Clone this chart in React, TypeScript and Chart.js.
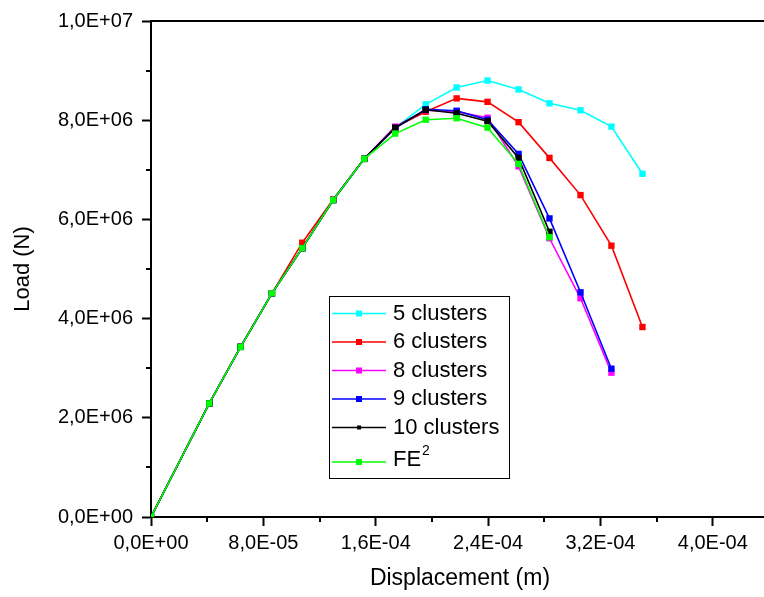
import React, { useEffect, useRef } from 'react';
import { Chart, registerables } from 'chart.js';

Chart.register(...registerables);

// Displacement (m) shared by all series
const displacement = [0, 4.15e-5, 6.38e-5, 8.61e-5, 1.077e-4, 1.297e-4, 1.518e-4, 1.739e-4, 1.956e-4, 2.176e-4, 2.396e-4, 2.617e-4, 2.837e-4, 3.058e-4, 3.278e-4, 3.499e-4];

// Load (N)
const load5 = [0, 2.29e6, 3.43e6, 4.51e6, 5.42e6, 6.39e6, 7.22e6, 7.85e6, 8.32e6, 8.66e6, 8.80e6, 8.62e6, 8.34e6, 8.20e6, 7.87e6, 6.92e6];
const load6 = [0, 2.29e6, 3.43e6, 4.51e6, 5.53e6, 6.40e6, 7.22e6, 7.86e6, 8.17e6, 8.44e6, 8.37e6, 7.96e6, 7.24e6, 6.49e6, 5.47e6, 3.83e6];
const load8 = [0, 2.29e6, 3.43e6, 4.51e6, 5.42e6, 6.39e6, 7.22e6, 7.87e6, 8.20e6, 8.17e6, 8.05e6, 7.07e6, 5.62e6, 4.41e6, 2.91e6];
const load9 = [0, 2.29e6, 3.43e6, 4.51e6, 5.42e6, 6.39e6, 7.22e6, 7.84e6, 8.22e6, 8.19e6, 8.01e6, 7.32e6, 6.02e6, 4.53e6, 2.99e6];
const load10 = [0, 2.29e6, 3.43e6, 4.51e6, 5.42e6, 6.39e6, 7.22e6, 7.85e6, 8.21e6, 8.14e6, 7.98e6, 7.24e6, 5.75e6];
const loadFE2 = [0, 2.29e6, 3.43e6, 4.51e6, 5.42e6, 6.39e6, 7.22e6, 7.73e6, 8.01e6, 8.04e6, 7.85e6, 7.12e6, 5.64e6];

const seriesNames = ['5 clusters', '6 clusters', '8 clusters', '9 clusters', '10 clusters', 'FE2'];
const seriesColors = ['#00FFFF', '#FF0000', '#FF00FF', '#0000FF', '#000000', '#00FF00'];
const seriesLoads = [load5, load6, load8, load9, load10, loadFE2];

const xTickLabels = ['0,0E+00', '8,0E-05', '1,6E-04', '2,4E-04', '3,2E-04', '4,0E-04'];
const yTickLabels = ['0,0E+00', '2,0E+06', '4,0E+06', '6,0E+06', '8,0E+06', '1,0E+07'];

const FONT = "'Liberation Sans', Arial, sans-serif";

const framePlugin = {
  id: 'frame',
  afterDraw(chart: any) {
    const ctx = chart.ctx;
    const { left, right, top, bottom } = chart.chartArea;
    const xs = chart.scales.x;
    const ys = chart.scales.y;
    ctx.save();
    ctx.strokeStyle = '#000';
    ctx.lineWidth = 2;
    // top frame line
    ctx.beginPath();
    ctx.moveTo(left - 1, top);
    ctx.lineTo(right + 1, top);
    ctx.stroke();
    // right frame line
    ctx.beginPath();
    ctx.moveTo(right, top);
    ctx.lineTo(right, bottom);
    ctx.stroke();
    // minor ticks
    xs.ticks.forEach((t: any, i: number) => {
      if (i % 2 === 1) {
        const px = Math.round(xs.getPixelForValue(t.value));
        ctx.beginPath();
        ctx.moveTo(px, bottom);
        ctx.lineTo(px, bottom + 5);
        ctx.stroke();
      }
    });
    ys.ticks.forEach((t: any, i: number) => {
      if (i % 2 === 1) {
        const py = Math.round(ys.getPixelForValue(t.value));
        ctx.beginPath();
        ctx.moveTo(left, py);
        ctx.lineTo(left - 5, py);
        ctx.stroke();
      }
    });
    ctx.restore();
  },
};

const legendPlugin = {
  id: 'customLegend',
  afterDraw(chart: any) {
    const ctx = chart.ctx;
    ctx.save();
    const bx = 329.5, by = 296.5, bw = 180, bh = 182;
    ctx.fillStyle = '#fff';
    ctx.fillRect(bx, by, bw, bh);
    ctx.strokeStyle = '#000';
    ctx.lineWidth = 1;
    ctx.strokeRect(bx, by, bw, bh);
    const rows = [313.5, 342, 370.5, 399, 427.5, 462];
    seriesNames.forEach((name, i) => {
      const y = rows[i];
      const c = seriesColors[i];
      ctx.strokeStyle = c;
      ctx.lineWidth = 1.6;
      ctx.beginPath();
      ctx.moveTo(332, y);
      ctx.lineTo(386, y);
      ctx.stroke();
      ctx.fillStyle = c;
      const s = i === 4 ? 4 : 6;
      ctx.fillRect(359 - s / 2, y - s / 2, s, s);
      ctx.fillStyle = '#000';
      ctx.font = `22px ${FONT}`;
      ctx.textBaseline = 'middle';
      ctx.textAlign = 'left';
      if (name === 'FE2') {
        ctx.fillText('FE', 393, y - 2);
        const w = ctx.measureText('FE').width;
        ctx.font = `14px ${FONT}`;
        ctx.fillText('2', 393 + w + 1, y - 11);
      } else {
        ctx.fillText(name, 393, y);
      }
    });
    ctx.restore();
  },
};

export default function App() {
  const ref = useRef<HTMLCanvasElement | null>(null);

  useEffect(() => {
    if (!ref.current) return;
    const datasets = seriesNames.map((name, i) => ({
      label: name,
      data: seriesLoads[i].map((v, j) => ({ x: displacement[j], y: v })),
      borderColor: seriesColors[i],
      backgroundColor: seriesColors[i],
      pointBackgroundColor: seriesColors[i],
      pointBorderColor: seriesColors[i],
      pointStyle: 'rect',
      pointRadius: 4.5,
      pointBorderWidth: 0,
      borderWidth: 1.6,
      tension: 0,
      fill: false,
      order: seriesNames.length - i,
    }));

    const chart = new Chart(ref.current, {
      type: 'line',
      data: { datasets },
      options: {
        animation: false,
        responsive: false,
        devicePixelRatio: 1,
        layout: { padding: { top: 18, right: 11, bottom: 0, left: 0 } },
        plugins: {
          legend: { display: false },
          tooltip: { enabled: false },
        },
        scales: {
          x: {
            type: 'linear',
            min: 0,
            max: 4.4e-4,
            afterFit: (s: any) => { s.height = 80; },
            ticks: {
              stepSize: 4e-5,
              autoSkip: false,
              maxRotation: 0,
              padding: 5,
              color: '#000',
              font: { family: FONT, size: 20 },
              callback: (_v: any, i: number) => (i % 2 === 0 ? xTickLabels[i / 2] ?? '' : ''),
            },
            grid: {
              drawOnChartArea: false,
              drawTicks: true,
              tickLength: 9,
              tickWidth: 2,
              tickColor: (c: any) => (c.index % 2 === 0 ? '#000' : 'rgba(0,0,0,0)'),
            },
            border: { display: true, color: '#000', width: 2 },
            title: {
              display: true,
              text: 'Displacement (m)',
              color: '#000',
              font: { family: FONT, size: 23 },
              padding: { top: 0, bottom: 5 },
            },
          },
          y: {
            type: 'linear',
            min: 0,
            max: 1e7,
            afterFit: (s: any) => { s.width = 151; },
            ticks: {
              stepSize: 1e6,
              autoSkip: false,
              padding: 9,
              color: '#000',
              font: { family: FONT, size: 20 },
              callback: (_v: any, i: number) => (i % 2 === 0 ? yTickLabels[i / 2] ?? '' : ''),
            },
            grid: {
              drawOnChartArea: false,
              drawTicks: true,
              tickLength: 9,
              tickWidth: 2,
              tickColor: (c: any) => (c.index % 2 === 0 ? '#000' : 'rgba(0,0,0,0)'),
            },
            border: { display: true, color: '#000', width: 2 },
            title: {
              display: true,
              text: 'Load (N)',
              color: '#000',
              font: { family: FONT, size: 22 },
              padding: { top: 10, bottom: 0 },
            },
          },
        },
      },
      plugins: [framePlugin, legendPlugin],
    } as any);

    return () => chart.destroy();
  }, []);

  return (
    <div style={{ position: 'fixed', left: 0, top: 0, width: 780, height: 597, background: '#fff' }}>
      <canvas ref={ref} width={780} height={597} style={{ display: 'block' }} />
    </div>
  );
}
